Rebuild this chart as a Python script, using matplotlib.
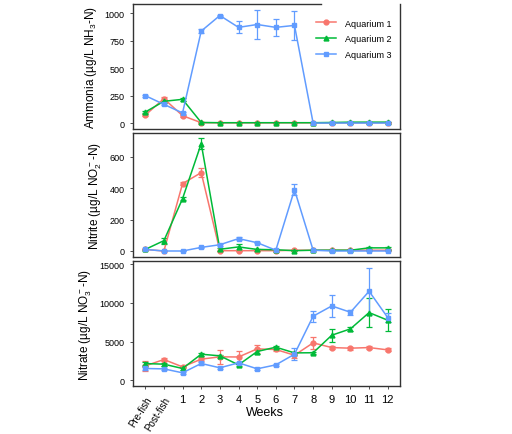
import numpy as np
import matplotlib.pyplot as plt
from matplotlib.lines import Line2D

plt.rcParams['font.family'] = ['Liberation Sans', 'DejaVu Sans']
plt.rcParams['mathtext.default'] = 'regular'

weeks = ['Pre-fish', 'Post-fish', '1', '2', '3', '4', '5', '6', '7', '8', '9', '10', '11', '12']
series = ['Aquarium 1', 'Aquarium 2', 'Aquarium 3']

# Ammonia (ug/L NH3-N)
amm_1 = [72, 222, 67, 3, 2, 2, 2, 2, 2, 2, 2, 2, 3, 3]
amm_2 = [100, 198, 216, 5, 3, 3, 3, 3, 3, 3, 5, 8, 8, 8]
amm_3 = [250, 170, 92, 838, 980, 872, 898, 872, 890, 0, 0, 0, 0, 0]
amm_err_1 = [10, 15, 8, 0, 0, 0, 0, 0, 0, 0, 0, 0, 0, 0]
amm_err_2 = [10, 10, 15, 0, 0, 0, 0, 0, 0, 0, 0, 0, 0, 0]
amm_err_3 = [10, 10, 8, 20, 8, 55, 130, 75, 130, 0, 0, 0, 0, 0]

# Nitrite (ug/L NO2-N)
nit_1 = [10, 0, 430, 500, 2, 2, 2, 2, 5, 5, 5, 5, 5, 5]
nit_2 = [10, 66, 334, 685, 11, 26, 10, 8, 2, 5, 5, 5, 20, 20]
nit_3 = [10, 0, 0, 23, 40, 79, 53, 5, 391, 5, 0, 0, 0, 0]
nit_err_1 = [3, 0, 8, 30, 0, 0, 0, 0, 0, 0, 0, 0, 0, 0]
nit_err_2 = [3, 20, 10, 35, 8, 20, 5, 3, 0, 0, 0, 0, 5, 5]
nit_err_3 = [3, 0, 0, 5, 5, 8, 5, 2, 35, 3, 0, 0, 0, 0]

# Nitrate (ug/L NO3-N)
nat_1 = [1850, 2670, 1720, 2720, 3020, 3000, 4050, 3970, 3230, 4830, 4220, 4140, 4220, 3920]
nat_2 = [2150, 2070, 1510, 3360, 3150, 1980, 3710, 4270, 3530, 3550, 5820, 6640, 8750, 7760]
nat_3 = [1510, 1460, 950, 2160, 1600, 2240, 1470, 1980, 3360, 8280, 9610, 8790, 11510, 8100]
nat_err_1 = [600, 150, 150, 300, 900, 800, 550, 250, 300, 800, 200, 200, 200, 200]
nat_err_2 = [250, 200, 150, 200, 150, 150, 300, 200, 150, 150, 850, 300, 1900, 1400]
nat_err_3 = [150, 150, 150, 200, 150, 150, 150, 150, 750, 700, 1450, 300, 3050, 600]

colors = ['#F8766D', '#00BA38', '#619CFF']
markers = ['o', '^', 's']

x = np.arange(len(weeks))

fig = plt.figure(figsize=(5.12, 4.35), dpi=100)
ax1 = fig.add_axes([0.26, 0.701, 0.521, 0.287])
ax2 = fig.add_axes([0.26, 0.407, 0.521, 0.285])
ax3 = fig.add_axes([0.26, 0.110, 0.521, 0.287])

panels = [
    (ax1, [amm_1, amm_2, amm_3], [amm_err_1, amm_err_2, amm_err_3],
     'Ammonia (µg/L NH$_3$-N)', (-55, 1083), [0, 250, 500, 750, 1000]),
    (ax2, [nit_1, nit_2, nit_3], [nit_err_1, nit_err_2, nit_err_3],
     'Nitrite (µg/L NO$_2^-$-N)', (-38, 753), [0, 200, 400, 600]),
    (ax3, [nat_1, nat_2, nat_3], [nat_err_1, nat_err_2, nat_err_3],
     'Nitrate (µg/L NO$_3^-$-N)', (-776, 15390), [0, 5000, 10000, 15000]),
]

for ax, vals, errs, ylabel, ylim, yticks in panels:
    for i in range(3):
        ax.errorbar(x, vals[i], yerr=errs[i], color=colors[i], marker=markers[i],
                    markersize=3.5, linewidth=1.1, elinewidth=0.9, capsize=2.5,
                    capthick=0.9)
    ax.set_xlim(-0.65, len(weeks) - 0.35)
    ax.set_ylim(*ylim)
    ax.set_yticks(yticks)
    ax.set_ylabel(ylabel, fontsize=8.5)
    ax.tick_params(axis='y', labelsize=6.5, length=2.5, width=0.6, color='#333333')
    for s in ax.spines.values():
        s.set_color('#333333')
        s.set_linewidth(1.0)

for ax in [ax1, ax2]:
    ax.set_xticks([])

# legend box hides part of the top border in the original
ax1.spines['top'].set_bounds(-0.65, 9.4)

ax3.set_xticks(x)
ax3.set_xticklabels(weeks, fontsize=8)
ax3.tick_params(axis='x', length=2.5, width=0.6, color='#333333')
for lab in ax3.get_xticklabels()[:2]:
    lab.set_rotation(58)
    lab.set_fontsize(7)
    lab.set_ha('right')
    lab.set_rotation_mode('anchor')
fig.text(0.518, 0.051, 'Weeks', fontsize=9, ha='center', va='center')

handles = [Line2D([], [], color=colors[i], marker=markers[i], markersize=3.5, linewidth=1.1)
           for i in range(3)]
ax1.legend(handles, series, loc='upper right', frameon=False, fontsize=6.5,
           handlelength=2.2, handletextpad=1.0, labelspacing=0.75,
           bbox_to_anchor=(1.0, 0.95))

plt.savefig('out.png', dpi=100)
